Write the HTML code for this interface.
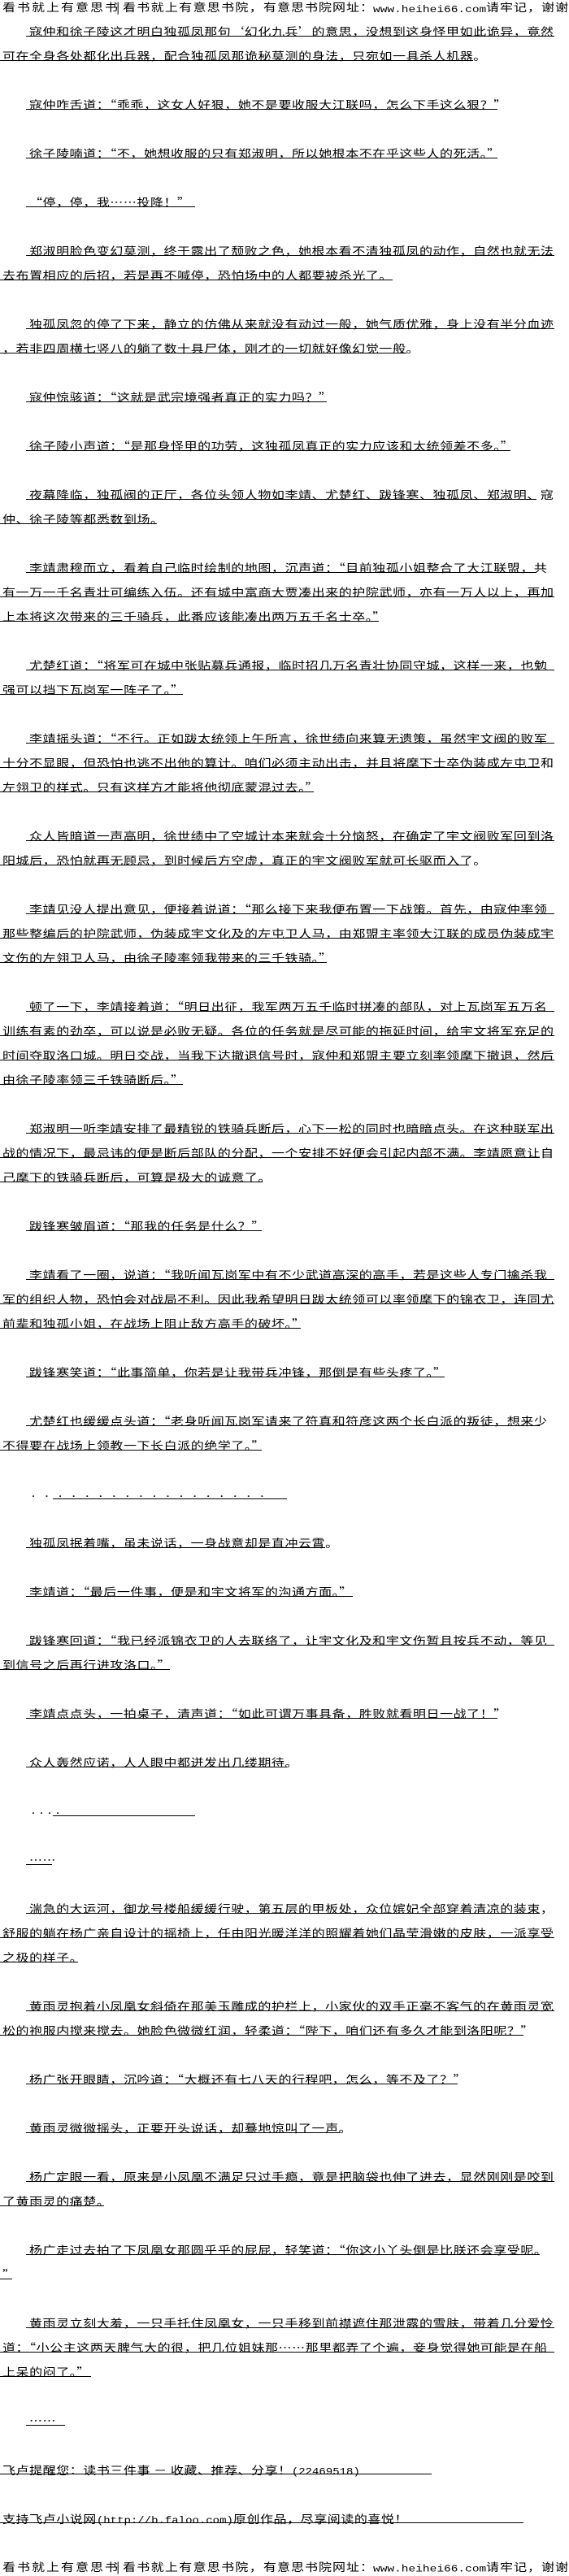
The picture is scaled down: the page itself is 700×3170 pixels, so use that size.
<!DOCTYPE html>
<html lang="zh-CN"><head><meta charset="utf-8"><style>
html,body{margin:0;padding:0;background:#fff}
body{position:relative;width:700px;height:3170px;overflow:hidden;color:#000;font-family:"Noto Sans CJK SC","WenQuanYi Zen Hei",sans-serif;font-size:16px}
.r{position:absolute;height:16px;line-height:16px;white-space:pre}
.n{left:3px}.p{left:36px}
.r span{display:inline-block;letter-spacing:.55px;transform:scaleY(.85);transform-origin:0 100%}
.r i{position:absolute;top:15px;height:1px;background:#000}
.n i{left:-3px}.p i{left:-4px}
.m{font-family:"Liberation Mono",monospace;font-size:14.5px;letter-spacing:0}
.r span.m{letter-spacing:0}
.r b{font-family:"Liberation Mono",monospace;font-size:14px;font-weight:400;letter-spacing:0}
</style></head><body>
<div class="r" style="left:3px;top:-1px"><span style="letter-spacing:2px">看书就上有意思书</span></div>
<div class="r" style="left:143px;top:-1px"><span>|</span></div>
<div class="r" style="left:151px;top:-1px"><span style="letter-spacing:1.3px">看书就上有意思书院，</span></div>
<div class="r" style="left:324px;top:-1px"><span style="letter-spacing:1px">有意思书院网址：</span></div>
<div class="r" style="left:459px;top:-1px"><span class="m">www.heihei66.com</span></div>
<div class="r" style="left:598px;top:-1px"><span style="letter-spacing:1px">请牢记，谢谢</span></div>

<div class="r p" style="top:29px"><span>寇仲和徐子陵这才明白独孤凤那句‘幻化九兵’的意思，没想到这身怪甲如此诡异，竟然</span><i style="width:650px"></i></div>
<div class="r n" style="top:59px"><span>可在全身各处都化出兵器，配合独孤凤那诡秘莫测的身法，只宛如一具杀人机器。</span><i style="width:582px"></i></div>
<div class="r p" style="top:119px"><span>寇仲咋舌道：“乖乖，这女人好狠，她不是要收服大江联吗，怎么下手这么狠？”</span><i style="width:580px"></i></div>
<div class="r p" style="top:179px"><span>徐子陵喃道：“不，她想收服的只有郑淑明，所以她根本不在乎这些人的死活。”</span><i style="width:580px"></i></div>
<div class="r p" style="top:239px"><span>“停，停，我……投降！”</span><i style="width:208px"></i></div>
<div class="r p" style="top:299px"><span>郑淑明脸色变幻莫测，终于露出了颓败之色，她根本看不清独孤凤的动作，自然也就无法</span><i style="width:650px"></i></div>
<div class="r n" style="top:329px"><span>去布置相应的后招，若是再不喊停，恐怕场中的人都要被杀光了。</span><i style="width:483px"></i></div>
<div class="r p" style="top:389px"><span>独孤凤忽的停了下来，静立的仿佛从来就没有动过一般，她气质优雅，身上没有半分血迹</span><i style="width:650px"></i></div>
<div class="r n" style="top:419px"><span>，若非四周横七竖八的躺了数十具尸体，刚才的一切就好像幻觉一般。</span><i style="width:500px"></i></div>
<div class="r p" style="top:479px"><span>寇仲惊骇道：“这就是武宗境强者真正的实力吗？”</span><i style="width:370px"></i></div>
<div class="r p" style="top:539px"><span>徐子陵小声道：“是那身怪甲的功劳，这独孤凤真正的实力应该和太统领差不多。”</span><i style="width:596px"></i></div>
<div class="r p" style="top:599px"><span>夜幕降临，独孤阀的正厅，各位头领人物如李靖、尤楚红、跋锋寒、独孤凤、郑淑明、寇</span><i style="width:628px"></i></div>
<div class="r n" style="top:629px"><span>仲、徐子陵等都悉数到场。</span><i style="width:193px"></i></div>
<div class="r p" style="top:689px"><span>李靖肃穆而立，看着自己临时绘制的地图，沉声道：“目前独孤小姐整合了大江联盟，共</span><i style="width:628px"></i></div>
<div class="r n" style="top:719px"><span>有一万一千名青壮可编练入伍。还有城中富商大贾凑出来的护院武师，亦有一万人以上，再加</span><i style="width:682px"></i></div>
<div class="r n" style="top:749px"><span>上本将这次带来的三千骑兵，此番应该能凑出两万五千名士卒。”</span><i style="width:466px"></i></div>
<div class="r p" style="top:809px"><span>尤楚红道：“将军可在城中张贴募兵通报，临时招几万名青壮协同守城，这样一来，也勉</span><i style="width:650px"></i></div>
<div class="r n" style="top:839px"><span>强可以挡下瓦岗军一阵子了。”</span><i style="width:225px"></i></div>
<div class="r p" style="top:899px"><span>李靖摇头道：“不行。正如跋太统领上午所言，徐世绩向来算无遗策，虽然宇文阀的败军</span><i style="width:650px"></i></div>
<div class="r n" style="top:929px"><span>十分不显眼，但恐怕也逃不出他的算计。咱们必须主动出击，并且将麾下士卒伪装成左屯卫和</span><i style="width:664px"></i></div>
<div class="r n" style="top:959px"><span>左翎卫的样式。只有这样方才能将他彻底蒙混过去。”</span><i style="width:386px"></i></div>
<div class="r p" style="top:1019px"><span>众人皆暗道一声高明，徐世绩中了空城计本来就会十分恼怒，在确定了宇文阀败军回到洛</span><i style="width:650px"></i></div>
<div class="r n" style="top:1049px"><span>阳城后，恐怕就再无顾忌，到时候后方空虚，真正的宇文阀败军就可长驱而入了。</span><i style="width:577px"></i></div>
<div class="r p" style="top:1109px"><span>李靖见没人提出意见，便接着说道：“那么接下来我便布置一下战策。首先，由寇仲率领</span><i style="width:650px"></i></div>
<div class="r n" style="top:1139px"><span>那些整编后的护院武师，伪装成宇文化及的左屯卫人马，由郑盟主率领大江联的成员伪装成宇</span><i style="width:682px"></i></div>
<div class="r n" style="top:1169px"><span>文伤的左翎卫人马，由徐子陵率领我带来的三千铁骑。”</span><i style="width:402px"></i></div>
<div class="r p" style="top:1229px"><span>顿了一下，李靖接着道：“明日出征，我军两万五千临时拼凑的部队，对上瓦岗军五万名</span><i style="width:650px"></i></div>
<div class="r n" style="top:1259px"><span>训练有素的劲卒，可以说是必败无疑。各位的任务就是尽可能的拖延时间，给宇文将军充足的</span><i style="width:682px"></i></div>
<div class="r n" style="top:1289px"><span>时间夺取洛口城。明日交战，当我下达撤退信号时，寇仲和郑盟主要立刻率领麾下撤退，然后</span><i style="width:682px"></i></div>
<div class="r n" style="top:1319px"><span>由徐子陵率领三千铁骑断后。”</span><i style="width:225px"></i></div>
<div class="r p" style="top:1379px"><span>郑淑明一听李靖安排了最精锐的铁骑兵断后，心下一松的同时也暗暗点头。在这种联军出</span><i style="width:650px"></i></div>
<div class="r n" style="top:1409px"><span>战的情况下，最忌讳的便是断后部队的分配，一个安排不好便会引起内部不满。李靖愿意让自</span><i style="width:664px"></i></div>
<div class="r n" style="top:1439px"><span>己麾下的铁骑兵断后，可算是极大的诚意了。</span><i style="width:323px"></i></div>
<div class="r p" style="top:1499px"><span>跋锋寒皱眉道：“那我的任务是什么？”</span><i style="width:290px"></i></div>
<div class="r p" style="top:1559px"><span>李靖看了一圈，说道：“我听闻瓦岗军中有不少武道高深的高手，若是这些人专门擒杀我</span><i style="width:650px"></i></div>
<div class="r n" style="top:1589px"><span>军的组织人物，恐怕会对战局不利。因此我希望明日跋太统领可以率领麾下的锦衣卫，连同尤</span><i style="width:682px"></i></div>
<div class="r n" style="top:1619px"><span>前辈和独孤小姐，在战场上阻止敌方高手的破坏。”</span><i style="width:370px"></i></div>
<div class="r p" style="top:1679px"><span>跋锋寒笑道：“此事简单，你若是让我带兵冲锋，那倒是有些头疼了。”</span><i style="width:515px"></i></div>
<div class="r p" style="top:1739px"><span>尤楚红也缓缓点头道：“老身听闻瓦岗军请来了符真和符彦这两个长白派的叛徒，想来少</span><i style="width:632px"></i></div>
<div class="r n" style="top:1769px"><span>不得要在战场上领教一下长白派的绝学了。”</span><i style="width:322px"></i></div>
<div class="r p" style="top:1829px"><span style="font-size:10px;letter-spacing:6.55px">・・・・・・・・・・・・・・・・・・</span><i style="left:29px;width:288px"></i></div>
<div class="r p" style="top:1889px"><span>独孤凤抿着嘴，虽未说话，一身战意却是直冲云霄。</span><i style="width:368px"></i></div>
<div class="r p" style="top:1949px"><span>李靖道：“最后一件事，便是和宇文将军的沟通方面。”</span><i style="width:402px"></i></div>
<div class="r p" style="top:2009px"><span>跋锋寒回道：“我已经派锦衣卫的人去联络了，让宇文化及和宇文伤暂且按兵不动，等见</span><i style="width:650px"></i></div>
<div class="r n" style="top:2039px"><span>到信号之后再行进攻洛口。”</span><i style="width:209px"></i></div>
<div class="r p" style="top:2099px"><span>李靖点点头，一拍桌子，清声道：“如此可谓万事具备，胜败就看明日一战了！”</span><i style="width:580px"></i></div>
<div class="r p" style="top:2159px"><span>众人轰然应诺，人人眼中都迸发出几缕期待。</span><i style="width:321px"></i></div>
<div class="r p" style="top:2219px"><span style="font-size:10px;letter-spacing:0">・・・・</span><i style="left:29px;width:175px"></i></div>
<div class="r p" style="top:2279px"><span>……</span><i style="width:32px"></i></div>
<div class="r p" style="top:2339px"><span>湍急的大运河，御龙号楼船缓缓行驶，第五层的甲板处，众位嫔妃全部穿着清凉的装束，</span><i style="width:632px"></i></div>
<div class="r n" style="top:2369px"><span>舒服的躺在杨广亲自设计的摇椅上，任由阳光暖洋洋的照耀着她们晶莹滑嫩的皮肤，一派享受</span><i style="width:682px"></i></div>
<div class="r n" style="top:2399px"><span>之极的样子。</span><i style="width:96px"></i></div>
<div class="r p" style="top:2459px"><span>黄雨灵抱着小凤凰女斜倚在那美玉雕成的护栏上，小家伙的双手正毫不客气的在黄雨灵宽</span><i style="width:650px"></i></div>
<div class="r n" style="top:2489px"><span>松的袍服内搅来搅去。她脸色微微红润，轻柔道：“陛下，咱们还有多久才能到洛阳呢？”</span><i style="width:644px"></i></div>
<div class="r p" style="top:2549px"><span>杨广张开眼睛，沉吟道：“大概还有七八天的行程吧，怎么，等不及了？”</span><i style="width:531px"></i></div>
<div class="r p" style="top:2609px"><span>黄雨灵微微摇头，正要开头说话，却蓦地惊叫了一声。</span><i style="width:386px"></i></div>
<div class="r p" style="top:2669px"><span>杨广定眼一看，原来是小凤凰不满足只过手瘾，竟是把脑袋也伸了进去，显然刚刚是咬到</span><i style="width:650px"></i></div>
<div class="r n" style="top:2699px"><span>了黄雨灵的痛楚。</span><i style="width:128px"></i></div>
<div class="r p" style="top:2759px"><span>杨广走过去拍了下凤凰女那圆乎乎的屁屁，轻笑道：“你这小丫头倒是比朕还会享受呢。</span><i style="width:632px"></i></div>
<div class="r n" style="top:2789px"><span>”</span><i style="width:15px"></i></div>
<div class="r p" style="top:2849px"><span>黄雨灵立刻大羞，一只手托住凤凰女，一只手移到前襟遮住那泄露的雪肤，带着几分爱怜</span><i style="width:650px"></i></div>
<div class="r n" style="top:2879px"><span>道：“小公主这两天脾气大的很，把几位姐妹那……那里都弄了个遍，妾身觉得她可能是在船</span><i style="width:682px"></i></div>
<div class="r n" style="top:2909px"><span>上呆的闷了。”</span><i style="width:112px"></i></div>
<div class="r p" style="top:2969px"><span>……</span><i style="width:48px"></i></div>
<div class="r n" style="top:3029px"><span>飞卢提醒您：读书三件事 － 收藏、推荐、分享！<b>(22469518)</b></span><i style="width:531px"></i></div>
<div class="r n" style="top:3089px"><span>支持飞卢小说网<b>(http://b.faloo.com)</b>原创作品，尽享阅读的喜悦！</span><i style="width:644px"></i></div>

<div class="r" style="left:3px;top:3149px"><span style="letter-spacing:2px">看书就上有意思书</span></div>
<div class="r" style="left:143px;top:3149px"><span>|</span></div>
<div class="r" style="left:151px;top:3149px"><span style="letter-spacing:1.3px">看书就上有意思书院，</span></div>
<div class="r" style="left:324px;top:3149px"><span style="letter-spacing:1px">有意思书院网址：</span></div>
<div class="r" style="left:459px;top:3149px"><span class="m">www.heihei66.com</span></div>
<div class="r" style="left:598px;top:3149px"><span style="letter-spacing:1px">请牢记，谢谢</span></div>
</body></html>
